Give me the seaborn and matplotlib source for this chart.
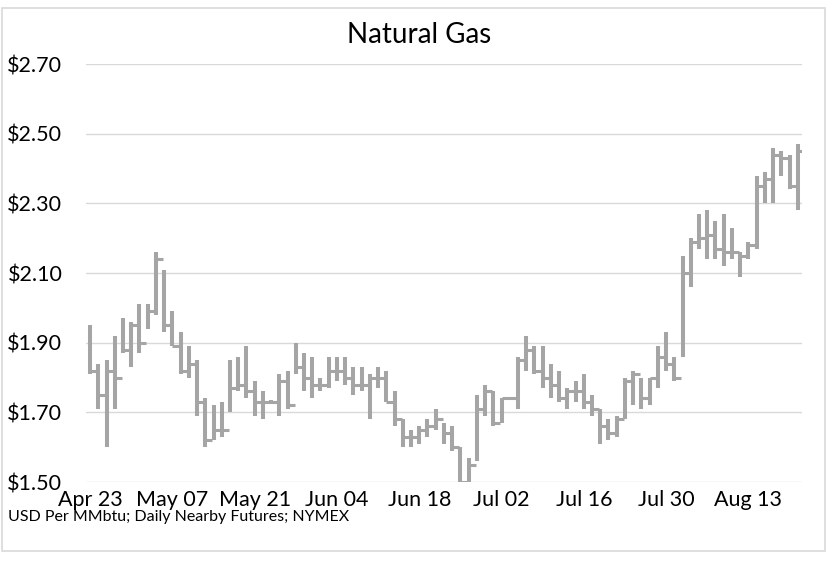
import matplotlib
matplotlib.use("Agg")
import matplotlib.pyplot as plt
from matplotlib.patches import Rectangle
import pandas as pd
import seaborn as sns

# daily nearby futures, one bar per weekday (holidays shown flat)
tick_labels = ["Apr 23", "May 07", "May 21", "Jun 04", "Jun 18",
               "Jul 02", "Jul 16", "Jul 30", "Aug 13"]

high = [1.95, 1.84, 1.85, 1.92, 1.97, 1.96, 2.01, 2.01, 2.16, 2.11,
        1.99, 1.93, 1.89, 1.85, 1.74, 1.72, 1.73, 1.85, 1.86, 1.89,
        1.79, 1.76, 1.735, 1.81, 1.82, 1.90, 1.87, 1.86, 1.80, 1.86,
        1.86, 1.86, 1.83, 1.83, 1.81, 1.83, 1.82, 1.76, 1.68, 1.65,
        1.66, 1.68, 1.71, 1.67, 1.66, 1.60, 1.57, 1.75, 1.78, 1.76,
        1.74, 1.745, 1.86, 1.92, 1.89, 1.89, 1.84, 1.82, 1.77, 1.79,
        1.81, 1.75, 1.71, 1.68, 1.69, 1.80, 1.82, 1.80, 1.80, 1.89,
        1.93, 1.86, 2.15, 2.20, 2.27, 2.28, 2.25, 2.27, 2.23, 2.16,
        2.19, 2.38, 2.39, 2.46, 2.45, 2.44, 2.47]

low = [1.81, 1.71, 1.60, 1.71, 1.87, 1.83, 1.87, 1.94, 1.98, 1.93,
       1.89, 1.81, 1.80, 1.69, 1.60, 1.62, 1.63, 1.70, 1.76, 1.74,
       1.69, 1.68, 1.725, 1.69, 1.71, 1.81, 1.76, 1.74, 1.76, 1.77,
       1.79, 1.78, 1.75, 1.76, 1.68, 1.77, 1.73, 1.66, 1.60, 1.60,
       1.61, 1.63, 1.65, 1.61, 1.59, 1.48, 1.48, 1.56, 1.69, 1.66,
       1.67, 1.735, 1.71, 1.82, 1.81, 1.77, 1.74, 1.73, 1.71, 1.73,
       1.71, 1.69, 1.61, 1.62, 1.63, 1.68, 1.72, 1.71, 1.72, 1.77,
       1.82, 1.79, 1.86, 2.06, 2.17, 2.14, 2.14, 2.12, 2.14, 2.09,
       2.14, 2.17, 2.30, 2.30, 2.38, 2.34, 2.28]

close = [1.82, 1.75, 1.82, 1.80, 1.88, 1.95, 1.90, 1.99, 2.14, 1.95,
         1.89, 1.82, 1.84, 1.73, 1.62, 1.65, 1.65, 1.77, 1.78, 1.76,
         1.73, 1.73, 1.73, 1.79, 1.72, 1.83, 1.80, 1.78, 1.78, 1.82,
         1.82, 1.80, 1.78, 1.78, 1.80, 1.80, 1.73, 1.68, 1.63, 1.63,
         1.65, 1.66, 1.68, 1.64, 1.60, 1.50, 1.55, 1.71, 1.76, 1.67,
         1.74, 1.74, 1.85, 1.88, 1.82, 1.80, 1.78, 1.74, 1.76, 1.76,
         1.73, 1.71, 1.66, 1.64, 1.68, 1.79, 1.81, 1.74, 1.80, 1.86,
         1.84, 1.80, 2.10, 2.19, 2.20, 2.21, 2.17, 2.16, 2.16, 2.15,
         2.18, 2.35, 2.37, 2.44, 2.43, 2.35, 2.45]

df = pd.DataFrame({"High": high, "Low": low, "Close": close})
df["Day"] = range(len(df))

BAR = "#A5A5A5"
GRID = "#D9D9D9"

sns.set_theme(style="white")
plt.rcParams["font.family"] = ["Lato", "DejaVu Sans"]

fig = plt.figure(figsize=(8.3, 5.62), dpi=100)
ax = fig.add_axes([0.1036, 0.1423, 0.8625, 0.7437])

# high-low line per day, close as a tick to the right
ax.vlines(df["Day"], df["Low"], df["High"], color=BAR, linewidth=2.9)
ax.hlines(df["Close"], df["Day"], df["Day"] + 0.85, color=BAR, linewidth=2.2)

ax.set_xlim(-0.5, len(df) - 0.5)
ax.set_ylim(1.50, 2.70)
yt = [1.50, 1.70, 1.90, 2.10, 2.30, 2.50, 2.70]
ax.set_yticks(yt)
ax.set_yticklabels([f"${v:.2f}" for v in yt])
ax.set_xticks(range(0, len(df), 10))
ax.set_xticklabels(tick_labels)
ax.tick_params(axis="both", length=0, labelsize=15.5, colors="black")
ax.tick_params(axis="y", pad=17)
ax.tick_params(axis="x", pad=6)
ax.yaxis.grid(True, color=GRID, linewidth=1)
ax.set_axisbelow(True)
sns.despine(ax=ax, left=True, bottom=True)
ax.set_xlabel("")
ax.set_ylabel("")

fig.text(0.505, 0.938, "Natural Gas", ha="center", va="center", fontsize=20, color="black")
fig.text(0.01, 0.080, "USD Per MMbtu; Daily Nearby Futures; NYMEX", ha="left", va="center",
         fontsize=11.5, color="black")
fig.patches.append(Rectangle((0.002, 0.02), 0.992, 0.965, transform=fig.transFigure,
                             fill=False, edgecolor=GRID, linewidth=1.2))

fig.savefig("out.png", dpi=100)
